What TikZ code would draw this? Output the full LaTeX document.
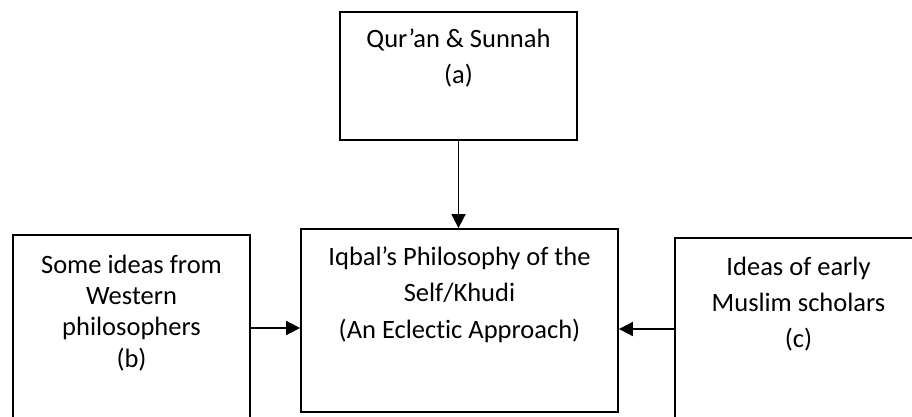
\documentclass[tikz,border=0pt]{standalone}
\usepackage{fontspec}
\setmainfont[Ligatures=NoCommon]{Carlito}
\usetikzlibrary{arrows.meta}
\begin{document}
\begin{tikzpicture}[x=1pt,y=-1pt,
  box/.style={draw=black, line width=1.8pt, rectangle, inner sep=0pt},
  lbl/.style={align=center, inner sep=0pt, anchor=base},
  arr/.style={line width=1.7pt, -{Triangle[length=14pt,width=14pt]}}]
\useasboundingbox (0,0) rectangle (912,417);
\clip (0,0) rectangle (912,417);
\fill[white] (0,0) rectangle (912,417);
% boxes
\node[box, minimum width=237pt, minimum height=128pt] (qs) at (458.5,76) {};
\node[box, minimum width=317pt, minimum height=183pt] (self) at (459.5,320.5) {};
\node[box, minimum width=237pt, minimum height=205pt] (west) at (131.5,337.5) {};
\node[box, minimum width=247pt, minimum height=202pt] (early) at (798.5,339) {};
% texts (base anchor = baseline of the last line)
\node[lbl, font=\fontsize{26.5}{36}\selectfont] (qst) at (458.5,84) {Qur’an \& Sunnah\\(a)};
\node[lbl, font=\fontsize{26.5}{36.5}\selectfont] (selft) at (459.5,338) {Iqbal’s Philosophy of the\\Self/Khudi\\(An Eclectic Approach)};
\node[lbl, font=\fontsize{26.5}{31.3}\selectfont] (westt) at (131.5,367) {Some ideas from\\Western\\philosophers\\(b)};
\node[lbl, font=\fontsize{26.5}{36}\selectfont] (earlyt) at (798.5,347) {Ideas of early\\Muslim scholars\\(c)};
% connectors
\coordinate (ly) at (0,328);
\coordinate (ry) at (0,329);
\draw[arr] (qs.south) -- (qs.south |- self.north);
\draw[arr] (west.east |- ly) -- (self.west |- ly);
\draw[arr] (early.west |- ry) -- (self.east |- ry);
\end{tikzpicture}
\end{document}
